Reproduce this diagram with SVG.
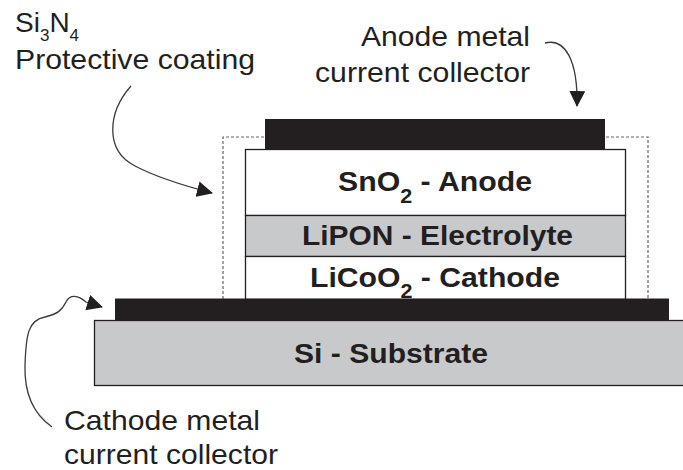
<svg xmlns="http://www.w3.org/2000/svg" width="683" height="470" viewBox="0 0 683 470">
<style>
.lbl{font-family:"Liberation Sans",Arial,sans-serif;font-size:28px;fill:#231f20}
.bld{font-family:"Liberation Sans",Arial,sans-serif;font-size:28px;font-weight:bold;fill:#231f20}
.sub{font-size:20px}
.sub2{font-size:17px}
.layer{stroke:#231f20;stroke-width:1.3}
.metal{fill:#231f20}
.gray{fill:#c8c9cb}
.conn{fill:none;stroke:#3a3a3a;stroke-width:1.3}
</style>
<defs>
<marker id="ah" viewBox="0 0 16 16" refX="15" refY="8" markerWidth="16" markerHeight="16" markerUnits="userSpaceOnUse" orient="auto">
<path d="M0,0 L16,8 L0,16 z" fill="#231f20"/>
</marker>
</defs>
<rect width="683" height="470" fill="#fff"/>
<g id="coating">
<path d="M223,299 V137 H648 V299" fill="none" stroke="#666" stroke-width="1.2" stroke-dasharray="3,2"/>
</g>
<g id="substrate">
<rect class="layer gray" x="94.5" y="320.5" width="600" height="65"/>
<text class="bld" x="294" y="362.5" textLength="194" lengthAdjust="spacingAndGlyphs">Si - Substrate</text>
</g>
<g id="anode">
<rect class="layer" fill="#fff" x="245.5" y="149.5" width="380" height="66"/>
<text class="bld" x="338" y="191" textLength="194" lengthAdjust="spacingAndGlyphs">SnO<tspan class="sub" y="203">2</tspan><tspan y="191"> - Anode</tspan></text>
</g>
<g id="electrolyte">
<rect class="layer gray" x="245.5" y="215.5" width="380" height="41"/>
<text class="bld" x="302" y="245" textLength="271" lengthAdjust="spacingAndGlyphs">LiPON - Electrolyte</text>
</g>
<g id="cathode">
<rect class="layer" fill="#fff" x="245.5" y="256.5" width="380" height="43"/>
<text class="bld" x="310" y="286.5" textLength="250" lengthAdjust="spacingAndGlyphs">LiCoO<tspan class="sub" y="298">2</tspan><tspan y="286.5"> - Cathode</tspan></text>
</g>
<g id="cathode-collector">
<rect class="metal" x="115" y="298.5" width="554" height="22"/>
</g>
<g id="anode-collector">
<rect class="metal" x="265" y="119" width="340" height="31"/>
</g>
<g id="label-coating">
<text class="lbl" x="15" y="32">Si<tspan class="sub2" y="40.5">3</tspan><tspan y="32">N</tspan><tspan class="sub2" y="40.5">4</tspan></text>
<text class="lbl" x="15" y="69" textLength="240" lengthAdjust="spacingAndGlyphs">Protective coating</text>
</g>
<g id="label-anode-collector">
<text class="lbl" x="361" y="46" textLength="169" lengthAdjust="spacingAndGlyphs">Anode metal</text>
<text class="lbl" x="315" y="81.5" textLength="215" lengthAdjust="spacingAndGlyphs">current collector</text>
</g>
<g id="label-cathode-collector">
<text class="lbl" x="64" y="430" textLength="196" lengthAdjust="spacingAndGlyphs">Cathode metal</text>
<text class="lbl" x="64" y="464" textLength="214" lengthAdjust="spacingAndGlyphs">current collector</text>
</g>
<g id="connectors">
<path class="conn" marker-end="url(#ah)" d="M131,86 C108,112 104,150 135,166 C158,178 185,186 212,193"/>
<path class="conn" marker-end="url(#ah)" d="M545,43 C565,38 578,60 577,106"/>
<path class="conn" marker-end="url(#ah)" d="M52,427 C35,415 24,395 25,365 C26,335 28,320 45,317 C58,314 62,310 66,302 C70,294 78,295 86,302 L102,307"/>
</g>
</svg>
